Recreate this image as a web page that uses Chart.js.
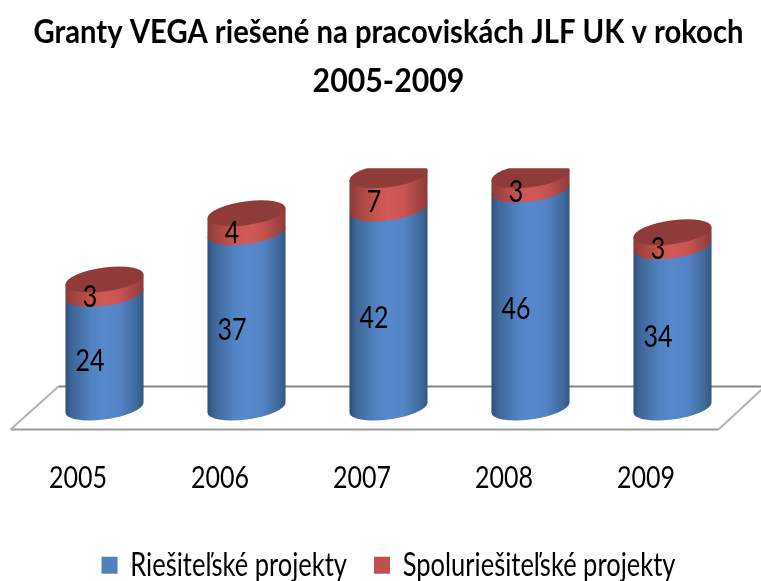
<!DOCTYPE html>
<html><head><meta charset="utf-8">
<style>html,body{margin:0;padding:0;background:#fff}#w{width:761px;height:581px;position:relative}</style>
<script src="https://cdn.jsdelivr.net/npm/chart.js@4"></script>
</head><body><div id="w"><canvas id="c"></canvas></div>
<script>
const titleLines = ['Granty VEGA riešené na pracoviskách JLF UK v rokoch', '2005-2009'];
const categories = ['2005', '2006', '2007', '2008', '2009'];
const seriesNames = ['Riešiteľské projekty', 'Spoluriešiteľské projekty'];
const riesitelske = [24, 37, 42, 46, 34];
const spoluriesitelske = [3, 4, 7, 3, 3];
const FONT = 'Lato, sans-serif';

function grad(ctx, rx, stops) {
  const g = ctx.createLinearGradient(-rx, 0, rx, 0);
  stops.forEach(s => g.addColorStop(s[0], s[1]));
  return g;
}
const blueStops = [[0,'#2F4F78'],[0.08,'#3E6596'],[0.35,'#5284C4'],[0.5,'#5688CC'],[0.7,'#5484C5'],[0.92,'#3F6899'],[1,'#33577F']];
const redStops = [[0,'#8A3A38'],[0.1,'#A04341'],[0.35,'#C85451'],[0.5,'#D05A57'],[0.7,'#C85451'],[0.92,'#9C4240'],[1,'#8C3B39']];
const SHEAR = 0.128, RY = 12;

const cylinders = {
  id: 'cylinders',
  beforeInit(chart) {
    // The reference's text is stretched vertically; keep widths, stretch heights about the anchor.
    const ctx = chart.ctx, orig = ctx.fillText.bind(ctx);
    ctx.fillText = function (t, x, y, m) {
      const sy = /bold/.test(ctx.font) ? 1.1 : 1.25;
      ctx.save();
      ctx.transform(1, 0, 0, sy, 0, y * (1 - sy));
      if (m === undefined) orig(t, x, y); else orig(t, x, y, m);
      ctx.restore();
    };
  },
  beforeDatasetsDraw(chart) {
    const {ctx, chartArea: a} = chart;
    ctx.save();
    ctx.lineWidth = 2;
    ctx.strokeStyle = '#858585';
    ctx.beginPath(); ctx.moveTo(a.left + 25, a.bottom - 21); ctx.lineTo(chart.width, a.bottom - 21); ctx.stroke();
    ctx.strokeStyle = '#9c9c9c';
    ctx.beginPath(); ctx.moveTo(a.left - 23, a.bottom + 22); ctx.lineTo(a.right - 25, a.bottom + 22); ctx.stroke();
    ctx.strokeStyle = '#b4b4b4';
    ctx.beginPath(); ctx.moveTo(a.left - 23, a.bottom + 22); ctx.lineTo(a.left + 25, a.bottom - 21); ctx.stroke();
    ctx.beginPath(); ctx.moveTo(a.right - 25, a.bottom + 22); ctx.lineTo(chart.width + 4, a.bottom - 21); ctx.stroke();
    ctx.restore();

    // Bottom segment first, so each upper segment's front rim lies over the one below.
    ctx.save();
    ctx.beginPath(); ctx.rect(0, a.top, chart.width, chart.height); ctx.clip();
    chart.data.datasets.forEach((ds, index) => {
      const stops = index === 0 ? blueStops : redStops;
      chart.getDatasetMeta(index).data.forEach(bar => {
        const p = bar.getProps(['x','y','base','width'], true);
        const rx = p.width / 2;
        ctx.save();
        ctx.transform(1, -SHEAR, 0, 1, p.x, 0);
        ctx.fillStyle = grad(ctx, rx, stops);
        ctx.beginPath();
        ctx.moveTo(-rx, p.y);
        ctx.lineTo(rx, p.y);
        ctx.lineTo(rx, p.base);
        ctx.ellipse(0, p.base, rx, RY, 0, 0, Math.PI);
        ctx.closePath();
        ctx.fill();
        if (index === 1) {
          ctx.fillStyle = '#8E3B39';
          ctx.beginPath();
          ctx.ellipse(0, p.y, rx, RY, 0, 0, Math.PI * 2);
          ctx.fill();
        }
        ctx.restore();
      });
    });
    ctx.restore();
  },
  beforeDatasetDraw() {
    return false;
  },
  afterDatasetsDraw(chart) {
    const {ctx} = chart;
    ctx.save();
    ctx.fillStyle = '#000';
    ctx.font = '25px ' + FONT;
    ctx.textAlign = 'center';
    ctx.textBaseline = 'middle';
    chart.data.datasets.forEach((ds, i) => {
      chart.getDatasetMeta(i).data.forEach((bar, j) => {
        const p = bar.getProps(['x','y','base'], true);
        ctx.fillText(String(ds.data[j]), p.x - 14.5, (p.y + p.base) / 2 + 10);
      });
    });
    ctx.restore();
  }
};

new Chart(document.getElementById('c'), {
  type: 'bar',
  data: {
    labels: categories,
    datasets: [
      {label: seriesNames[0], data: riesitelske, backgroundColor: '#4F81BD', categoryPercentage: 1, barPercentage: 0.55, stack: 's'},
      {label: seriesNames[1], data: spoluriesitelske, backgroundColor: '#C0504D', categoryPercentage: 1, barPercentage: 0.55, stack: 's'}
    ]
  },
  plugins: [cylinders],
  options: {
    responsive: true, maintainAspectRatio: false, animation: false,
    layout: {padding: {left: 33.5, right: 17.5, top: 8, bottom: -7}},
    plugins: {
      title: {display: true, text: titleLines, color: '#000', font: {family: FONT, size: 30.3, weight: 'bold', lineHeight: 1.62}, padding: {top: 0, bottom: 62}},
      legend: {position: 'bottom', labels: {color: '#000', font: {family: FONT, size: 25.5}, boxWidth: 16, boxHeight: 17, padding: 27}},
      tooltip: {enabled: false}
    },
    scales: {
      x: {stacked: true, grid: {display: false, tickLength: 22}, border: {display: false}, ticks: {color: '#000', font: {family: FONT, size: 25}, padding: 33, labelOffset: -26.5}},
      y: {stacked: true, display: false, min: 0, max: 50.5}
    }
  }
});
</script></body></html>
